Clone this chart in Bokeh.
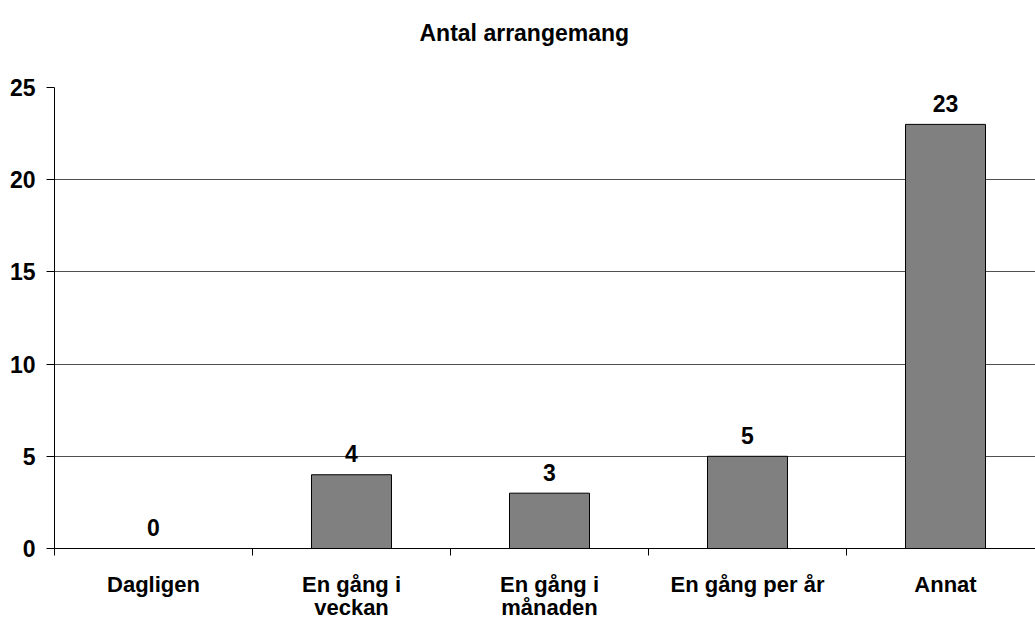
from bokeh.plotting import figure
from bokeh.models import Range1d, FixedTicker, ColumnDataSource
from bokeh.embed import file_html
from bokeh.resources import INLINE

title_text = "Antal arrangemang"
categories = ["Dagligen", "En gång i\nveckan", "En gång i\nmånaden", "En gång per år", "Annat"]
values = [0, 4, 3, 5, 23]
y_ticks = [0, 5, 10, 15, 20, 25]

FONT = "Liberation Sans"
FS = "23px"
n = len(categories)
centers = [i + 0.5 for i in range(n)]
bounds = list(range(n + 1))

p = figure(width=1035, height=622, output_backend="svg", toolbar_location=None,
           x_range=Range1d(0, 981 / 198), y_range=Range1d(0, 25),
           min_border_left=54, min_border_right=0, min_border_top=87, min_border_bottom=74)
p.outline_line_color = None
p.background_fill_color = "white"
p.border_fill_color = "white"

src = ColumnDataSource(dict(x=centers, top=values, lab=[str(v) for v in values]))
p.vbar(x="x", top="top", bottom=0, width=0.404, source=src,
       fill_color="#808080", line_color="black", line_width=1)
p.text(x="x", y="top", text="lab", source=src, text_align="center", text_baseline="middle",
       y_offset=-21, text_font_size=FS, text_font_style="bold", text_color="black",
       text_font={"value": FONT})

# x axis: labels at category centres, tick marks at category boundaries
xa = p.xaxis[0]
xa.ticker = FixedTicker(ticks=centers, minor_ticks=bounds)
xa.major_label_overrides = {c: lab for c, lab in zip(centers, categories)}
xa.major_tick_line_color = None
xa.major_tick_out = 0
xa.major_tick_in = 0
xa.minor_tick_out = 7
xa.minor_tick_in = 0
xa.minor_tick_line_color = "black"
xa.axis_line_color = "black"
xa.major_label_standoff = 16
xa.major_label_text_font = FONT
xa.major_label_text_font_size = "22px"
xa.major_label_text_font_style = "bold"
xa.major_label_text_color = "black"
xa.major_label_text_line_height = 0.92

ya = p.yaxis[0]
ya.ticker = FixedTicker(ticks=y_ticks, minor_ticks=[])
ya.major_tick_out = 8
ya.major_tick_in = 0
ya.major_tick_line_color = "black"
ya.axis_line_color = "black"
ya.major_label_standoff = 11
ya.major_label_text_font = FONT
ya.major_label_text_font_size = FS
ya.major_label_text_font_style = "bold"
ya.major_label_text_color = "black"

p.xgrid.grid_line_color = None
p.ygrid.ticker = FixedTicker(ticks=y_ticks[1:])
p.ygrid.grid_line_color = "#505050"
p.ygrid.grid_line_width = 1

p.title.text = title_text + "\n "
p.title.align = "left"
p.title.offset = 365
p.title.standoff = 31
p.title.text_font = FONT
p.title.text_font_size = FS
p.title.text_font_style = "bold"
p.title.text_color = "black"

open("out.html", "w").write(file_html(p, INLINE))
